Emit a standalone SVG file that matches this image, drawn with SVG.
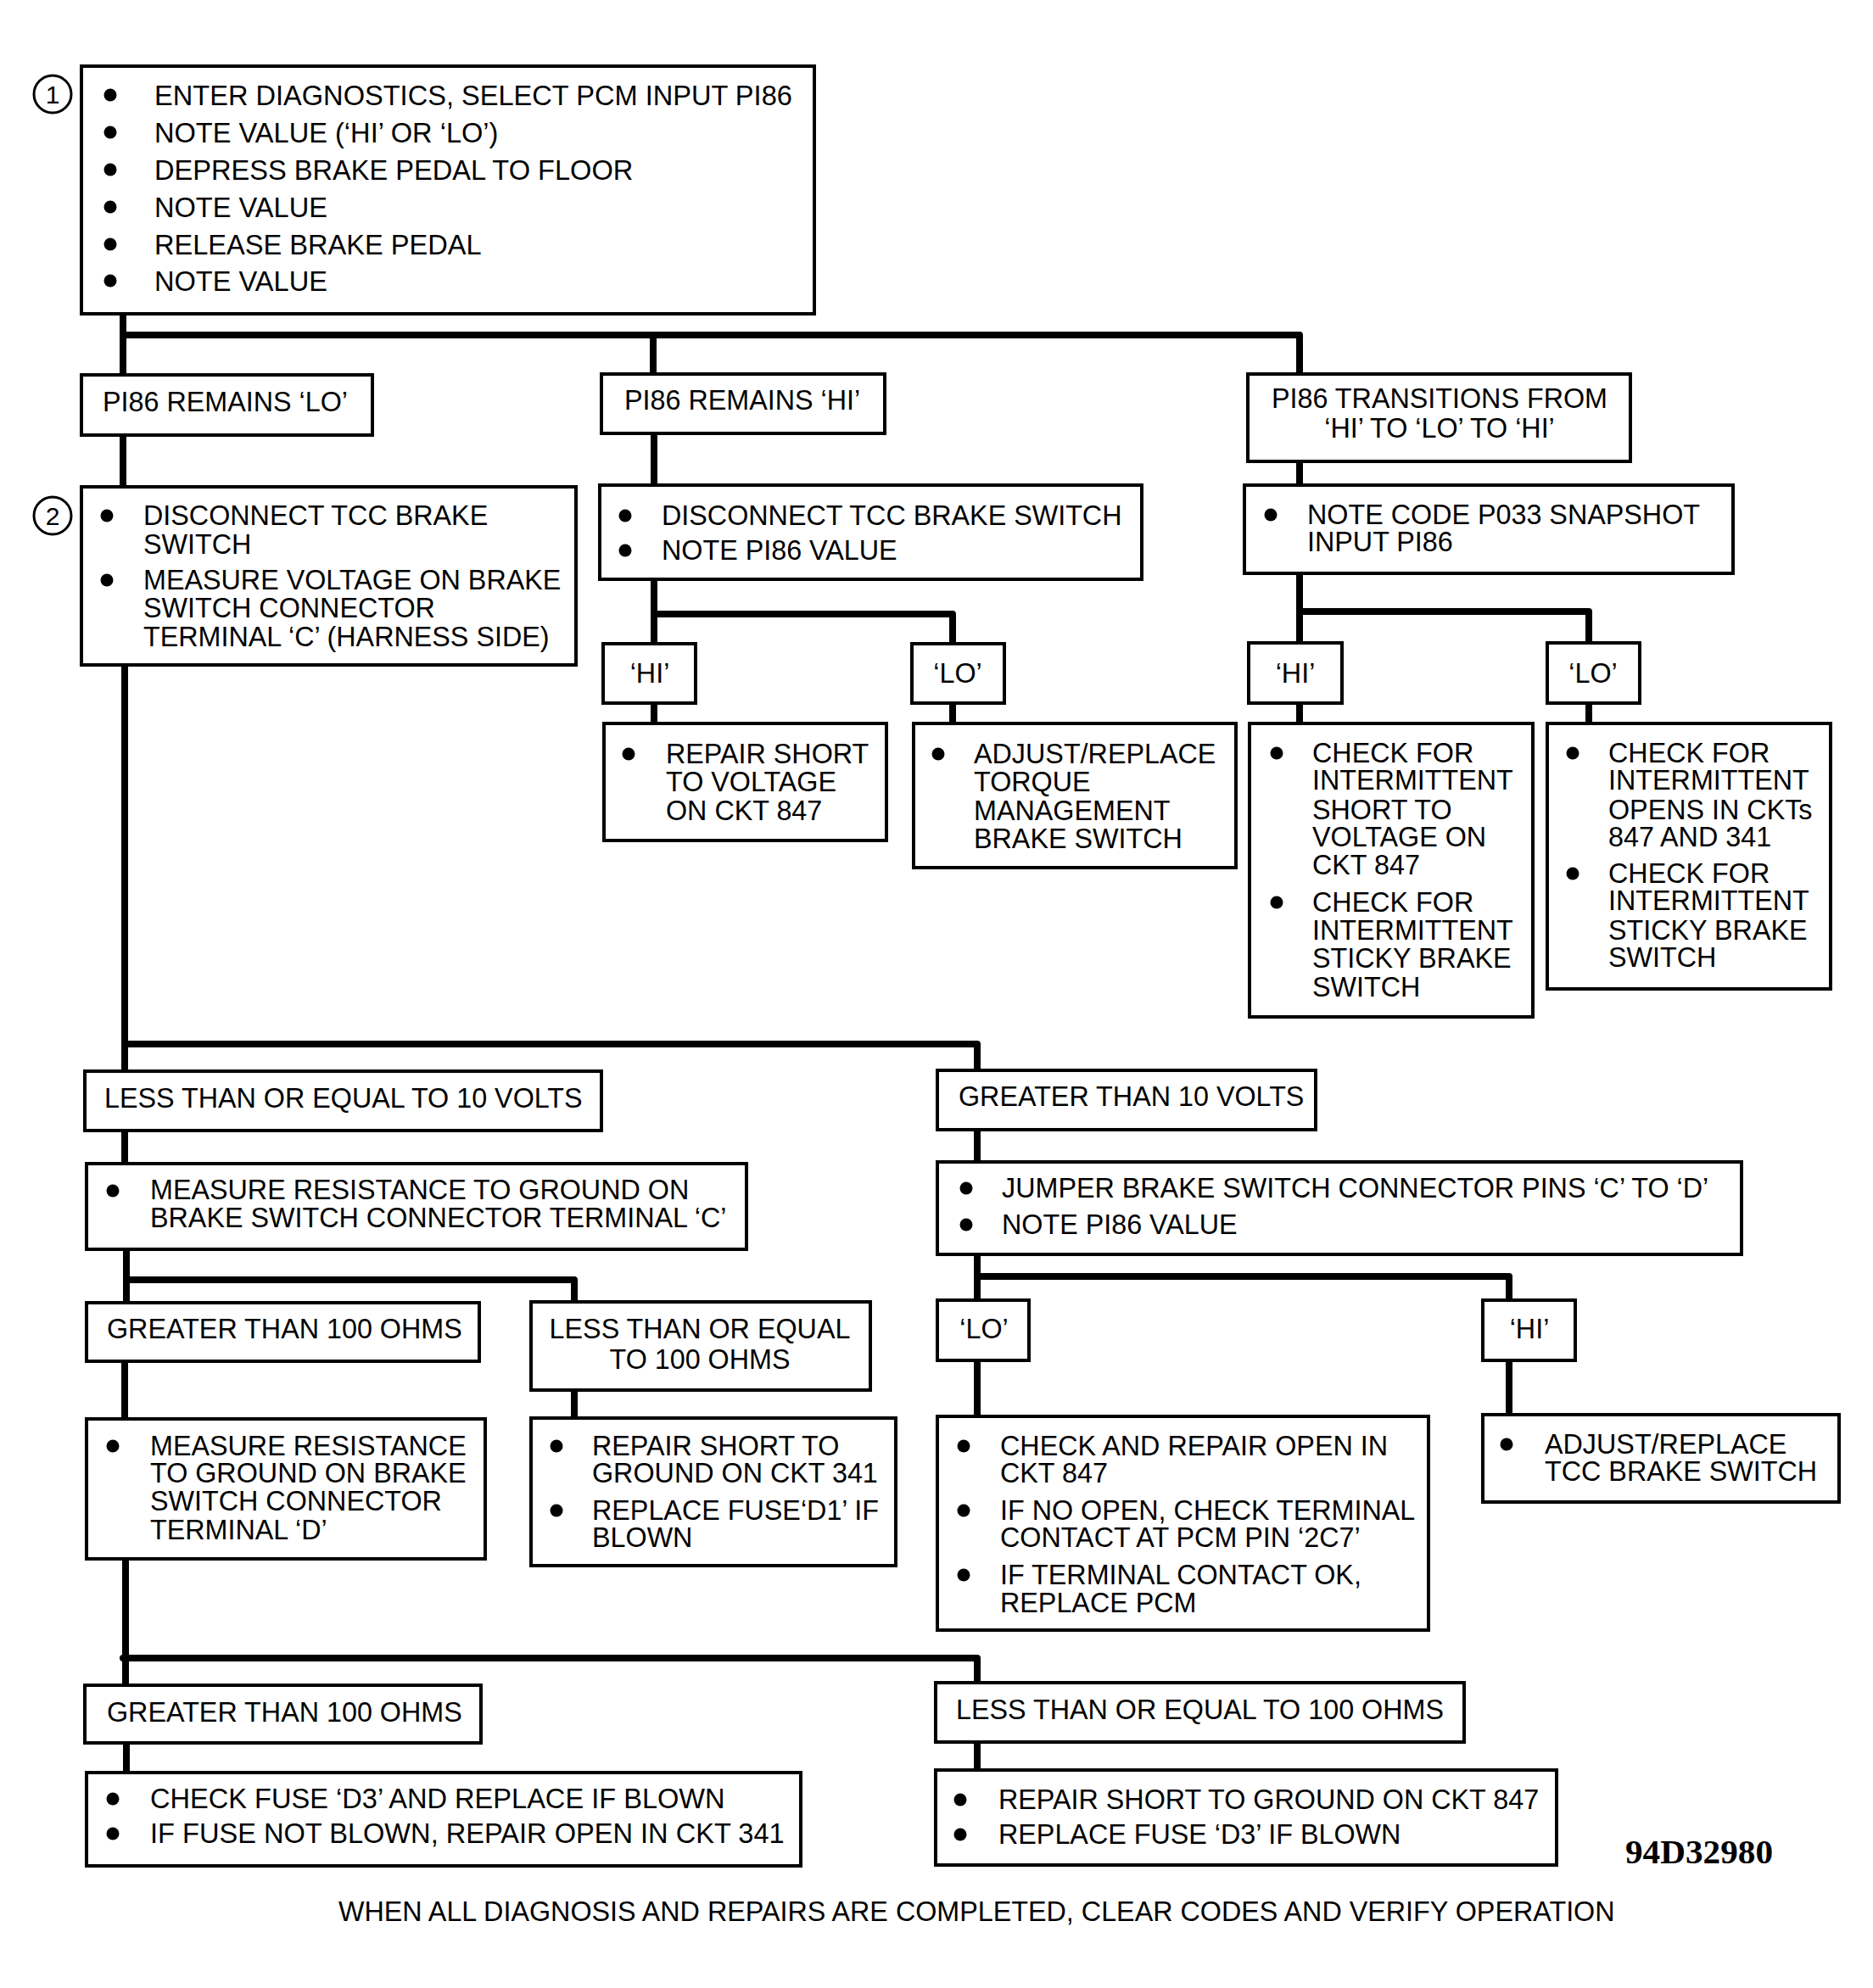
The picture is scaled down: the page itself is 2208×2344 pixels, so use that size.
<svg xmlns="http://www.w3.org/2000/svg" width="2208" height="2344" viewBox="0 0 2208 2344">
<style>
.box{fill:#fff;stroke:#000;stroke-width:4}
.t{font-family:"Liberation Sans",Arial,sans-serif;font-size:32.3px;fill:#000}
.m{text-anchor:middle}
.c{fill:none;stroke:#000;stroke-width:8;stroke-linejoin:round;stroke-linecap:butt}
.dot{fill:#000}
.num{fill:#fff;stroke:#000;stroke-width:3}
</style>
<rect width="2208" height="2344" fill="#fff"/>
<g id="connectors">
<polyline class="c" points="145,370 145,442"/>
<polyline class="c" points="145,395 1532,395 1532,441"/>
<polyline class="c" points="770,395 770,441"/>
<polyline class="c" points="145,513 145,574"/>
<polyline class="c" points="771,511 771,572"/>
<polyline class="c" points="1532,544 1532,572"/>
<polyline class="c" points="771,683 771,759"/>
<polyline class="c" points="771,724 1123,724 1123,759"/>
<polyline class="c" points="1532,676 1532,758"/>
<polyline class="c" points="1532,721 1873,721 1873,758"/>
<polyline class="c" points="771,829 771,853"/>
<polyline class="c" points="1123,829 1123,853"/>
<polyline class="c" points="1532,829 1532,853"/>
<polyline class="c" points="1873,829 1873,853"/>
<polyline class="c" points="147,784 147,1262"/>
<polyline class="c" points="147,1231 1152,1231 1152,1262"/>
<polyline class="c" points="147,1333 147,1372"/>
<polyline class="c" points="1152,1332 1152,1370"/>
<polyline class="c" points="149,1473 149,1536"/>
<polyline class="c" points="149,1509 677,1509 677,1535"/>
<polyline class="c" points="1152,1479 1152,1533"/>
<polyline class="c" points="1152,1505 1779,1505 1779,1533"/>
<polyline class="c" points="147,1604 147,1672"/>
<polyline class="c" points="677,1639 677,1672"/>
<polyline class="c" points="1152,1604 1152,1670"/>
<polyline class="c" points="1779,1604 1779,1668"/>
<polyline class="c" points="148,1837 148,1987"/>
<polyline class="c" points="145,1955 1152,1955 1152,1984" style="stroke-linecap:round"/>
<polyline class="c" points="149,2055 149,2090"/>
<polyline class="c" points="1152,2054 1152,2087"/>
</g>
<g id="n1">
<circle class="num" cx="62" cy="111" r="22"/>
<text class="t m" x="62" y="122" style="font-size:30px">1</text>
<rect class="box" x="96" y="78" width="864" height="292"/>
<circle class="dot" cx="130" cy="112" r="7.5"/><text class="t" x="182" y="124" style="font-size:32.6px">ENTER DIAGNOSTICS, SELECT PCM INPUT PI86</text>
<circle class="dot" cx="130" cy="156" r="7.5"/><text class="t" x="182" y="168" style="font-size:32.6px">NOTE VALUE (‘HI’ OR ‘LO’)</text>
<circle class="dot" cx="130" cy="200" r="7.5"/><text class="t" x="182" y="212" style="font-size:32.6px">DEPRESS BRAKE PEDAL TO FLOOR</text>
<circle class="dot" cx="130" cy="244" r="7.5"/><text class="t" x="182" y="256" style="font-size:32.6px">NOTE VALUE</text>
<circle class="dot" cx="130" cy="288" r="7.5"/><text class="t" x="182" y="300" style="font-size:32.6px">RELEASE BRAKE PEDAL</text>
<circle class="dot" cx="130" cy="331" r="7.5"/><text class="t" x="182" y="343" style="font-size:32.6px">NOTE VALUE</text>
</g>
<g id="remainsLO">
<rect class="box" x="96" y="442" width="343" height="71"/>
<text class="t" x="121" y="485">PI86 REMAINS ‘LO’</text>
</g>
<g id="remainsHI">
<rect class="box" x="709" y="441" width="334" height="70"/>
<text class="t" x="736" y="483">PI86 REMAINS ‘HI’</text>
</g>
<g id="transitions">
<rect class="box" x="1471" y="441" width="451" height="103"/>
<text class="t m" x="1697" y="481">PI86 TRANSITIONS FROM</text>
<text class="t m" x="1697" y="516">‘HI’ TO ‘LO’ TO ‘HI’</text>
</g>
<g id="n2">
<circle class="num" cx="62" cy="608" r="22"/>
<text class="t m" x="62" y="619" style="font-size:30px">2</text>
<rect class="box" x="96" y="574" width="583" height="210"/>
<circle class="dot" cx="126" cy="608" r="7.5"/>
<text class="t" x="169" y="619">DISCONNECT TCC BRAKE</text>
<text class="t" x="169" y="653">SWITCH</text>
<circle class="dot" cx="126" cy="684" r="7.5"/>
<text class="t" x="169" y="695">MEASURE VOLTAGE ON BRAKE</text>
<text class="t" x="169" y="728">SWITCH CONNECTOR</text>
<text class="t" x="169" y="762">TERMINAL ‘C’ (HARNESS SIDE)</text>
</g>
<g id="disconnect">
<rect class="box" x="707" y="572" width="639" height="111"/>
<circle class="dot" cx="737" cy="608" r="7.5"/><text class="t" x="780" y="619">DISCONNECT TCC BRAKE SWITCH</text>
<circle class="dot" cx="737" cy="649" r="7.5"/><text class="t" x="780" y="660">NOTE PI86 VALUE</text>
</g>
<g id="notecode">
<rect class="box" x="1467" y="572" width="576" height="104"/>
<circle class="dot" cx="1498" cy="607" r="7.5"/>
<text class="t" x="1541" y="618">NOTE CODE P033 SNAPSHOT</text>
<text class="t" x="1541" y="650">INPUT PI86</text>
</g>
<g id="hiA"><rect class="box" x="711" y="759" width="109" height="70"/><text class="t m" x="766" y="805">‘HI’</text></g>
<g id="loA"><rect class="box" x="1075" y="759" width="109" height="70"/><text class="t m" x="1129" y="805">‘LO’</text></g>
<g id="hiB"><rect class="box" x="1472" y="758" width="110" height="71"/><text class="t m" x="1527" y="805">‘HI’</text></g>
<g id="loB"><rect class="box" x="1824" y="758" width="109" height="71"/><text class="t m" x="1878" y="805">‘LO’</text></g>
<g id="repair847v">
<rect class="box" x="712" y="853" width="333" height="138"/>
<circle class="dot" cx="741" cy="889" r="7.5"/>
<text class="t" x="785" y="900">REPAIR SHORT</text>
<text class="t" x="785" y="933">TO VOLTAGE</text>
<text class="t" x="785" y="967">ON CKT 847</text>
</g>
<g id="adjustTorque">
<rect class="box" x="1077" y="853" width="380" height="170"/>
<circle class="dot" cx="1106" cy="889" r="7.5"/>
<text class="t" x="1148" y="900">ADJUST/REPLACE</text>
<text class="t" x="1148" y="933">TORQUE</text>
<text class="t" x="1148" y="967">MANAGEMENT</text>
<text class="t" x="1148" y="1000">BRAKE SWITCH</text>
</g>
<g id="checkShort">
<rect class="box" x="1473" y="853" width="334" height="346"/>
<circle class="dot" cx="1505" cy="888" r="7.5"/>
<text class="t" x="1547" y="899">CHECK FOR</text>
<text class="t" x="1547" y="931">INTERMITTENT</text>
<text class="t" x="1547" y="966">SHORT TO</text>
<text class="t" x="1547" y="998">VOLTAGE ON</text>
<text class="t" x="1547" y="1031">CKT 847</text>
<circle class="dot" cx="1505" cy="1064" r="7.5"/>
<text class="t" x="1547" y="1075">CHECK FOR</text>
<text class="t" x="1547" y="1108">INTERMITTENT</text>
<text class="t" x="1547" y="1141">STICKY BRAKE</text>
<text class="t" x="1547" y="1175">SWITCH</text>
</g>
<g id="checkOpens">
<rect class="box" x="1824" y="853" width="334" height="313"/>
<circle class="dot" cx="1854" cy="888" r="7.5"/>
<text class="t" x="1896" y="899">CHECK FOR</text>
<text class="t" x="1896" y="931">INTERMITTENT</text>
<text class="t" x="1896" y="966">OPENS IN CKTs</text>
<text class="t" x="1896" y="998">847 AND 341</text>
<circle class="dot" cx="1854" cy="1030" r="7.5"/>
<text class="t" x="1896" y="1041">CHECK FOR</text>
<text class="t" x="1896" y="1073">INTERMITTENT</text>
<text class="t" x="1896" y="1108">STICKY BRAKE</text>
<text class="t" x="1896" y="1140">SWITCH</text>
</g>
<g id="le10v">
<rect class="box" x="100" y="1263" width="609" height="70"/>
<text class="t" x="123" y="1306">LESS THAN OR EQUAL TO 10 VOLTS</text>
</g>
<g id="gt10v">
<rect class="box" x="1105" y="1262" width="446" height="70"/>
<text class="t" x="1130" y="1304">GREATER THAN 10 VOLTS</text>
</g>
<g id="measureC">
<rect class="box" x="102" y="1372" width="778" height="101"/>
<circle class="dot" cx="133" cy="1404" r="7.5"/>
<text class="t" x="177" y="1414">MEASURE RESISTANCE TO GROUND ON</text>
<text class="t" x="177" y="1447">BRAKE SWITCH CONNECTOR TERMINAL ‘C’</text>
</g>
<g id="jumper">
<rect class="box" x="1105" y="1370" width="948" height="109"/>
<circle class="dot" cx="1139" cy="1401" r="7.5"/><text class="t" x="1181" y="1412">JUMPER BRAKE SWITCH CONNECTOR PINS ‘C’ TO ‘D’</text>
<circle class="dot" cx="1139" cy="1444" r="7.5"/><text class="t" x="1181" y="1455">NOTE PI86 VALUE</text>
</g>
<g id="gt100a">
<rect class="box" x="102" y="1536" width="463" height="69"/>
<text class="t" x="126" y="1578">GREATER THAN 100 OHMS</text>
</g>
<g id="le100a">
<rect class="box" x="626" y="1535" width="400" height="104"/>
<text class="t m" x="825" y="1578">LESS THAN OR EQUAL</text>
<text class="t m" x="825" y="1614">TO 100 OHMS</text>
</g>
<g id="loC"><rect class="box" x="1105" y="1533" width="108" height="71"/><text class="t m" x="1160" y="1578">‘LO’</text></g>
<g id="hiC"><rect class="box" x="1748" y="1533" width="109" height="71"/><text class="t m" x="1803" y="1578">‘HI’</text></g>
<g id="measureD">
<rect class="box" x="102" y="1673" width="470" height="165"/>
<circle class="dot" cx="133" cy="1705" r="7.5"/>
<text class="t" x="177" y="1716">MEASURE RESISTANCE</text>
<text class="t" x="177" y="1748">TO GROUND ON BRAKE</text>
<text class="t" x="177" y="1781">SWITCH CONNECTOR</text>
<text class="t" x="177" y="1815">TERMINAL ‘D’</text>
</g>
<g id="repair341">
<rect class="box" x="626" y="1672" width="430" height="174"/>
<circle class="dot" cx="656" cy="1705" r="7.5"/>
<text class="t" x="698" y="1716">REPAIR SHORT TO</text>
<text class="t" x="698" y="1748">GROUND ON CKT 341</text>
<circle class="dot" cx="656" cy="1781" r="7.5"/>
<text class="t" x="698" y="1792">REPLACE FUSE‘D1’ IF</text>
<text class="t" x="698" y="1824">BLOWN</text>
</g>
<g id="checkOpen847">
<rect class="box" x="1105" y="1670" width="579" height="252"/>
<circle class="dot" cx="1136" cy="1705" r="7.5"/>
<text class="t" x="1179" y="1716">CHECK AND REPAIR OPEN IN</text>
<text class="t" x="1179" y="1748">CKT 847</text>
<circle class="dot" cx="1136" cy="1781" r="7.5"/>
<text class="t" x="1179" y="1792">IF NO OPEN, CHECK TERMINAL</text>
<text class="t" x="1179" y="1824">CONTACT AT PCM PIN ‘2C7’</text>
<circle class="dot" cx="1136" cy="1857" r="7.5"/>
<text class="t" x="1179" y="1868">IF TERMINAL CONTACT OK,</text>
<text class="t" x="1179" y="1901">REPLACE PCM</text>
</g>
<g id="adjustTCC">
<rect class="box" x="1748" y="1668" width="420" height="103"/>
<circle class="dot" cx="1776" cy="1703" r="7.5"/>
<text class="t" x="1821" y="1714">ADJUST/REPLACE</text>
<text class="t" x="1821" y="1746">TCC BRAKE SWITCH</text>
</g>
<g id="gt100b">
<rect class="box" x="100" y="1987" width="467" height="68"/>
<text class="t" x="126" y="2030">GREATER THAN 100 OHMS</text>
</g>
<g id="le100b">
<rect class="box" x="1103" y="1984" width="623" height="70"/>
<text class="t" x="1127" y="2027">LESS THAN OR EQUAL TO 100 OHMS</text>
</g>
<g id="checkFuse">
<rect class="box" x="102" y="2090" width="842" height="110"/>
<circle class="dot" cx="133" cy="2121" r="7.5"/><text class="t" x="177" y="2132" style="font-size:32.6px">CHECK FUSE ‘D3’ AND REPLACE IF BLOWN</text>
<circle class="dot" cx="133" cy="2162" r="7.5"/><text class="t" x="177" y="2173" style="font-size:32.6px">IF FUSE NOT BLOWN, REPAIR OPEN IN CKT 341</text>
</g>
<g id="repair847g">
<rect class="box" x="1103" y="2087" width="732" height="112"/>
<circle class="dot" cx="1132" cy="2122" r="7.5"/><text class="t" x="1177" y="2133">REPAIR SHORT TO GROUND ON CKT 847</text>
<circle class="dot" cx="1132" cy="2163" r="7.5"/><text class="t" x="1177" y="2174">REPLACE FUSE ‘D3’ IF BLOWN</text>
</g>
<text x="1916" y="2197" textLength="174" lengthAdjust="spacingAndGlyphs" style="font-family:'Liberation Serif','Times New Roman',serif;font-weight:bold;font-size:41px">94D32980</text>
<text class="t" x="399" y="2265">WHEN ALL DIAGNOSIS AND REPAIRS ARE COMPLETED, CLEAR CODES AND VERIFY OPERATION</text>
</svg>
